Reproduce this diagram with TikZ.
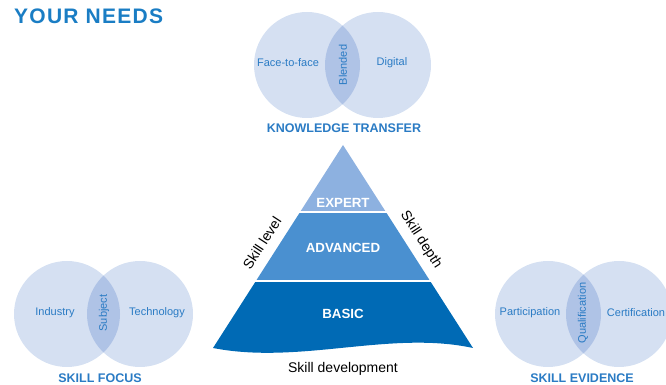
\documentclass[tikz,border=0pt]{standalone}
\usepackage{fontspec}
\setmainfont{Liberation Sans}
\newfontfamily\titlefont[LetterSpace=6]{Liberation Sans}
\definecolor{vennfill}{HTML}{D5E0F2}
\definecolor{vennmid}{HTML}{AFC3E6}
\definecolor{txtblue}{HTML}{2A7BC4}
\definecolor{titleblue}{HTML}{1A7DC4}
\definecolor{expertc}{HTML}{8DB1E0}
\definecolor{advc}{HTML}{4A90D0}
\definecolor{basicc}{HTML}{006AB5}
\tikzset{
  vcircle/.style={circle, fill=vennfill, minimum size=106pt, inner sep=0pt},
  vlabel/.style={text=txtblue, font=\fontsize{11}{13}\selectfont, inner sep=0pt},
  vhead/.style={text=txtblue, font=\fontsize{12.5}{14}\selectfont\bfseries, inner sep=0pt},
  lvl/.style={text=white, font=\fontsize{13.3}{15}\selectfont\bfseries, inner sep=0pt},
  axis/.style={text=black, font=\fontsize{14}{16}\selectfont, inner sep=0pt},
  sep/.style={white, line width=1.5pt}
}
\begin{document}
\begin{tikzpicture}[x=1pt,y=1pt]
\useasboundingbox (0,0) rectangle (666,385);
\clip (0,0) rectangle (666,385);
% title
\node[anchor=west, inner sep=0pt, text=titleblue, font=\titlefont\fontsize{21}{24}\selectfont\bfseries] (title) at (14,369) {YOUR NEEDS};
% top venn
\node[vcircle] (kl) at (307,320) {};
\node[vcircle] (kr) at (378,320) {};
\begin{scope}\clip (307,320) circle (53);\fill[vennmid] (378,320) circle (53);\end{scope}
\node[vlabel] (k1) at (288,322) {Face-to-face};
\node[vlabel] (k2) at (392,322) {Digital};
\node[vlabel, rotate=90] (k3) at (343,320) {Blended};
\node[vhead] (kh) at (344,257) {KNOWLEDGE TRANSFER};
% bottom-left venn
\node[vcircle] (fl) at (67,71) {};
\node[vcircle] (fr) at (140,71) {};
\begin{scope}\clip (67,71) circle (53);\fill[vennmid] (140,71) circle (53);\end{scope}
\node[vlabel] (f1) at (55,72) {Industry};
\node[vlabel] (f2) at (157,72) {Technology};
\node[vlabel, rotate=90] (f3) at (104,72) {Subject};
\node[vhead] (fh) at (100,7) {SKILL FOCUS};
% bottom-right venn
\node[vcircle] (el) at (548,71) {};
\node[vcircle] (er) at (619,71) {};
\begin{scope}\clip (548,71) circle (53);\fill[vennmid] (619,71) circle (53);\end{scope}
\node[vlabel] (e1) at (530,72) {Participation};
\node[vlabel] (e2) at (636,72) {Certification};
\node[vlabel, rotate=90] (e3) at (583,72) {Qualification};
\node[vhead] (eh) at (582,7) {SKILL EVIDENCE};
% pyramid
\fill[expertc] (343,240) -- (300.1,173) -- (385.9,173) -- cycle;
\fill[advc] (300.1,173) -- (385.9,173) -- (430.1,104) -- (255.9,104) -- cycle;
\fill[basicc] (255.9,104) -- (430.1,104) -- (473,37) .. controls (390,55) and (300,20) .. (213,37) -- cycle;
\draw[sep] (299,173) -- (387,173);
\draw[sep] (254,104) -- (432,104);
\node[lvl] (p1) at (343,182) {EXPERT};
\node[lvl] (p2) at (343,137) {ADVANCED};
\node[lvl] (p3) at (343,71) {BASIC};
\node[axis, rotate=57] (a1) at (262,142) {Skill level};
\node[axis, rotate=-57] (a2) at (421,145) {Skill depth};
\node[axis] (a3) at (343,16) {Skill development};
\end{tikzpicture}
\end{document}
